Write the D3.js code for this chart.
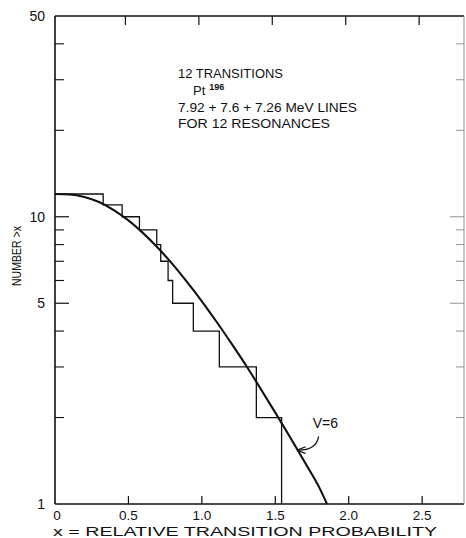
<!DOCTYPE html>
<html>
<head>
<meta charset="utf-8">
<script src="https://cdn.jsdelivr.net/npm/d3@7"></script>
<style>
  body { margin: 0; background: #fff; }
  text { font-family: "Liberation Sans", Arial, sans-serif; fill: #111; }
</style>
</head>
<body>
<div id="chart"></div>
<script>
// step data: number of transitions greater than x
var stepX = [0, 0.328, 0.457, 0.575, 0.693, 0.720, 0.770, 0.801, 0.942, 1.119, 1.371, 1.543];
var stepN = [12, 11, 10, 9, 8, 7, 6, 5, 4, 3, 2, 1];

// smooth curve, v = 6
var curveX = [0, 0.1, 0.2, 0.3, 0.4, 0.5, 0.6, 0.7, 0.8, 0.9, 1.0, 1.1, 1.2, 1.3, 1.4, 1.5, 1.6, 1.7, 1.8, 1.852];
var curveN = [12, 11.96, 11.72, 11.25, 10.55, 9.71, 8.77, 7.80, 6.84, 5.92, 5.08, 4.31, 3.63, 3.04, 2.52, 2.08, 1.71, 1.40, 1.14, 1.0];

var xTicks = [0, 0.5, 1.0, 1.5, 2.0, 2.5];
var xTickLabels = ["0", "0.5", "1.0", "1.5", "2.0", "2.5"];
var yMajor = [1, 5, 10, 50];
var yMinor = [2, 3, 4, 6, 7, 8, 9, 20, 30, 40];

var width = 466, height = 538;

var svg = d3.select("#chart").append("svg")
  .attr("width", width)
  .attr("height", height);

var x = d3.scaleLinear().domain([0, 2.785]).range([55, 464]);
var y = d3.scaleLog().domain([1, 50]).range([504, 16]);

// frame
svg.append("line").attr("x1", x(0)).attr("x2", x(0)).attr("y1", y(50)).attr("y2", y(1))
  .attr("stroke", "#111").attr("stroke-width", 1.6);
svg.append("line").attr("x1", x(0)).attr("x2", x(2.785)).attr("y1", y(1)).attr("y2", y(1))
  .attr("stroke", "#111").attr("stroke-width", 1.6);
svg.append("line").attr("x1", x(0)).attr("x2", x(2.785)).attr("y1", y(50)).attr("y2", y(50))
  .attr("stroke", "#111").attr("stroke-width", 1.5);
svg.append("line").attr("x1", x(2.785)).attr("x2", x(2.785)).attr("y1", y(50)).attr("y2", y(1))
  .attr("stroke", "#777").attr("stroke-width", 0.8);

// x ticks bottom and top
var xt = xTicks.filter(function(d){ return d > 0; });
svg.selectAll(".xb").data(xt).enter().append("line")
  .attr("x1", function(d){ return x(d); }).attr("x2", function(d){ return x(d); })
  .attr("y1", y(1)).attr("y2", y(1) - 8)
  .attr("stroke", "#111").attr("stroke-width", 1.2);
svg.selectAll(".xt").data(xt).enter().append("line")
  .attr("x1", function(d){ return x(d) - 3; }).attr("x2", function(d){ return x(d) - 3; })
  .attr("y1", y(50)).attr("y2", y(50) + 9)
  .attr("stroke", "#111").attr("stroke-width", 1.2);

svg.selectAll(".xl").data(xTicks).enter().append("text")
  .attr("x", function(d){ return x(d) + (d === 0 ? 2 : 0); })
  .attr("y", 520)
  .attr("text-anchor", "middle")
  .style("font-size", "13.5px")
  .text(function(d, i){ return xTickLabels[i]; });

// y ticks left
svg.selectAll(".ymaj").data([5, 10]).enter().append("line")
  .attr("x1", x(0)).attr("x2", x(0) + 14)
  .attr("y1", function(d){ return y(d); }).attr("y2", function(d){ return y(d); })
  .attr("stroke", "#111").attr("stroke-width", 1.2);
svg.selectAll(".ymin").data(yMinor).enter().append("line")
  .attr("x1", x(0)).attr("x2", x(0) + 9)
  .attr("y1", function(d){ return y(d); }).attr("y2", function(d){ return y(d); })
  .attr("stroke", "#111").attr("stroke-width", 1.1);

// y ticks right (faint)
svg.selectAll(".yr").data(yMinor.concat([5, 10])).enter().append("line")
  .attr("x1", x(2.785)).attr("x2", function(d){ return x(2.785) - (d === 5 || d === 10 ? 14 : 8); })
  .attr("y1", function(d){ return y(d); }).attr("y2", function(d){ return y(d); })
  .attr("stroke", "#888").attr("stroke-width", 0.9);

svg.selectAll(".yl").data(yMajor).enter().append("text")
  .attr("x", 45)
  .attr("y", function(d){ return y(d) + 5; })
  .attr("text-anchor", "end")
  .style("font-size", "14px")
  .text(function(d){ return d; });

// axis titles
svg.append("text")
  .attr("transform", "translate(21," + 256 + ") rotate(-90)")
  .attr("text-anchor", "middle")
  .attr("textLength", 60).attr("lengthAdjust", "spacingAndGlyphs")
  .style("font-size", "12px")
  .text("NUMBER >x");

svg.append("text")
  .attr("x", 53).attr("y", 536)
  .attr("textLength", 384).attr("lengthAdjust", "spacingAndGlyphs")
  .style("font-size", "12px")
  .text("x = RELATIVE  TRANSITION  PROBABILITY");

// step function
var stepLine = d3.line()
  .x(function(d){ return x(d[0]); })
  .y(function(d){ return y(d[1]); })
  .curve(d3.curveStepAfter);
svg.append("path")
  .datum(stepX.map(function(d, i){ return [d, stepN[i]]; }))
  .attr("d", stepLine)
  .attr("fill", "none").attr("stroke", "#111").attr("stroke-width", 1.3);

// v = 6 curve
var smooth = d3.line()
  .x(function(d){ return x(d[0]); })
  .y(function(d){ return y(d[1]); })
  .curve(d3.curveMonotoneX);
svg.append("path")
  .datum(curveX.map(function(d, i){ return [d, curveN[i]]; }))
  .attr("d", smooth)
  .attr("fill", "none").attr("stroke", "#111").attr("stroke-width", 2.1);

// labels in the plot
var notes = svg.append("g").style("font-size", "13px");
notes.append("text").attr("x", 178).attr("y", 78).attr("textLength", 105).attr("lengthAdjust", "spacingAndGlyphs").text("12 TRANSITIONS");
var pt = notes.append("text").attr("x", 193).attr("y", 95);
pt.append("tspan").text("Pt");
pt.append("tspan").attr("dx", 4).attr("dy", -5.5).style("font-size", "9px").style("font-weight", "bold").text("196");
notes.append("text").attr("x", 178).attr("y", 112).attr("textLength", 179).attr("lengthAdjust", "spacingAndGlyphs").text("7.92 + 7.6 + 7.26 MeV LINES");
notes.append("text").attr("x", 178).attr("y", 128).attr("textLength", 152).attr("lengthAdjust", "spacingAndGlyphs").text("FOR 12  RESONANCES");

svg.append("text")
  .attr("x", x(1.755)).attr("y", y(1.84))
  .style("font-size", "14px")
  .text("V=6");

// arrow from label to curve
svg.append("defs").append("marker")
  .attr("id", "ah").attr("viewBox", "0 0 10 10")
  .attr("refX", 9).attr("refY", 5)
  .attr("markerWidth", 7).attr("markerHeight", 7)
  .attr("orient", "auto")
  .append("path").attr("d", "M0,1 L10,5 L0,9").attr("fill", "none").attr("stroke", "#111").attr("stroke-width", 1.5);

var a0 = [x(1.795), y(1.72)], a1 = [x(1.655), y(1.54)];
svg.append("path")
  .attr("d", "M" + a0[0] + "," + a0[1] + " Q" + (a0[0] - 2) + "," + a1[1] + " " + a1[0] + "," + a1[1])
  .attr("fill", "none").attr("stroke", "#111").attr("stroke-width", 1.2)
  .attr("marker-end", "url(#ah)");
</script>
</body>
</html>
